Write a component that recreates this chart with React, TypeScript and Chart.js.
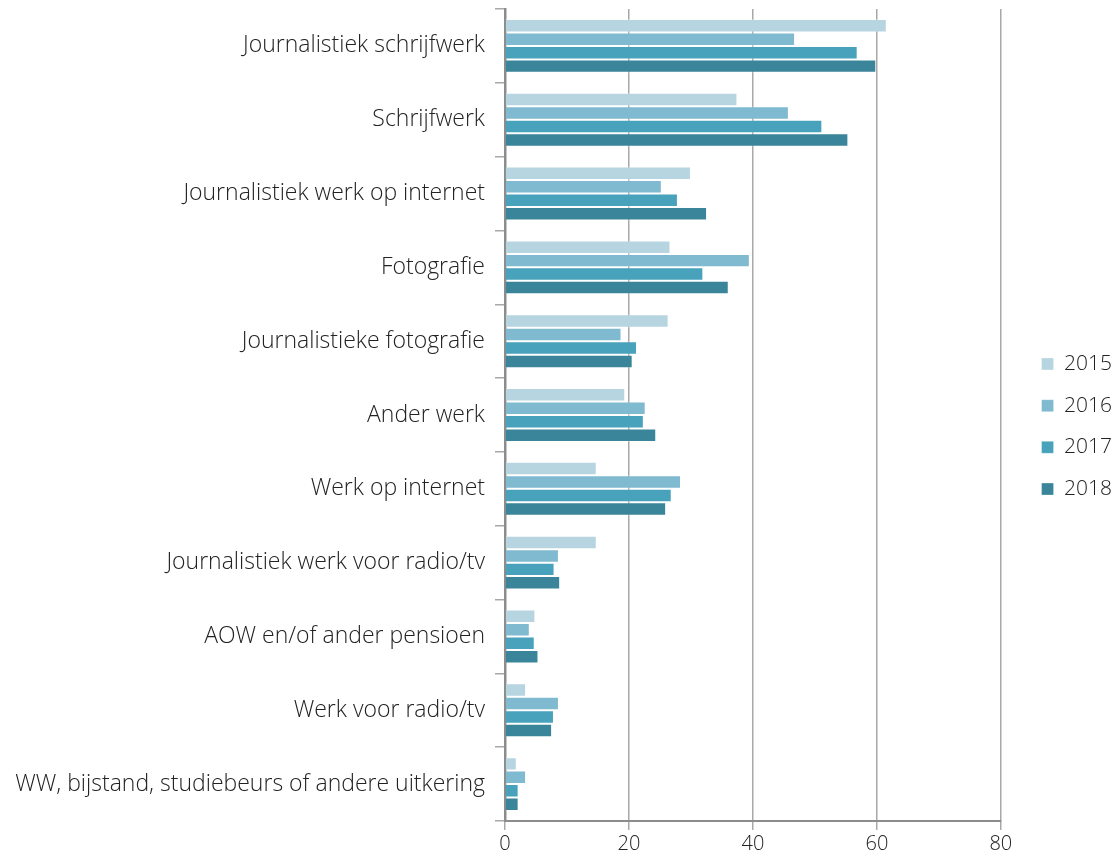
import React, { useEffect, useRef } from "react";
import { Chart, registerables } from "chart.js";

Chart.register(...registerables);

const categories = [
  "Journalistiek schrijfwerk",
  "Schrijfwerk",
  "Journalistiek werk op internet",
  "Fotografie",
  "Journalistieke fotografie",
  "Ander werk",
  "Werk op internet",
  "Journalistiek werk voor radio/tv",
  "AOW en/of ander pensioen",
  "Werk voor radio/tv",
  "WW, bijstand, studiebeurs of andere uitkering",
];

const years = ["2015", "2016", "2017", "2018"];

const values2015 = [61.6, 37.5, 30.0, 26.7, 26.4, 19.4, 14.8, 14.8, 4.9, 3.4, 1.9];
const values2016 = [46.8, 45.8, 25.3, 39.5, 18.8, 22.7, 28.4, 8.7, 4.0, 8.7, 3.4];
const values2017 = [56.9, 51.2, 27.9, 32.0, 21.3, 22.4, 26.9, 8.0, 4.8, 7.9, 2.2];
const values2018 = [59.9, 55.4, 32.6, 36.1, 20.6, 24.4, 26.0, 8.9, 5.4, 7.6, 2.2];

const xTicks = [0, 20, 40, 60, 80];

const colors = ["#b7d5e0", "#7fbad0", "#48a2bb", "#3a8599"];

const FONT = "'Open Sans', Lato, sans-serif";

const legendShift = {
  id: "legendShift",
  afterLayout(chart: any) {
    const lg = chart.legend;
    if (lg) {
      lg.left += 20;
      lg.right += 20;
      lg.top -= 7;
      lg.bottom -= 7;
    }
  },
};

export default function App() {
  const ref = useRef<HTMLCanvasElement | null>(null);

  useEffect(() => {
    document.body.style.margin = "0";
    const canvas = ref.current;
    if (!canvas) return;
    const series = [values2015, values2016, values2017, values2018];
    const chart = new Chart(canvas, {
      type: "bar",
      data: {
        labels: categories,
        datasets: series.map((vals, i) => ({
          label: years[i],
          data: vals,
          backgroundColor: colors[i],
          borderColor: "rgba(255,255,255,0.3)",
          borderWidth: 1,
          categoryPercentage: 0.73,
          barPercentage: 1,
        })),
      },
      plugins: [legendShift],
      options: {
        indexAxis: "y",
        animation: false,
        responsive: false,
        maintainAspectRatio: false,
        layout: { padding: { top: 9, right: 17, bottom: 4, left: 0 } },
        plugins: {
          tooltip: { enabled: false },
          legend: {
            position: "right",
            labels: {
              boxWidth: 12,
              boxHeight: 12,
              padding: 20.7,
              color: "#222",
              font: { family: FONT, size: 21, weight: "300" as any },
            },
          },
        },
        scales: {
          x: {
            min: 0,
            max: 80,
            afterBuildTicks: (scale: any) => {
              scale.ticks = xTicks.map((v) => ({ value: v }));
            },
            grid: {
              color: "#a8a8a8",
              lineWidth: 1.5,
              drawTicks: true,
              tickLength: 9,
            },
            border: { color: "#8c8c8c", width: 2 },
            ticks: {
              color: "#222",
              font: { family: FONT, size: 20, weight: "300" as any },
              padding: 2,
            },
          },
          y: {
            afterFit: (scale: any) => {
              scale.width = 505;
              scale.paddingTop = 0;
              scale.paddingBottom = 0;
            },
            grid: {
              drawOnChartArea: false,
              drawTicks: true,
              tickLength: 10,
              color: "#a8a8a8",
              lineWidth: 1.5,
            },
            border: { color: "#8c8c8c", width: 2.5 },
            ticks: {
              color: "#222",
              font: { family: FONT, size: 23, weight: "300" as any },
              padding: 10,
            },
          },
        },
      },
    });
    return () => chart.destroy();
  }, []);

  return (
    <div style={{ width: 1119, height: 862 }}>
      <canvas ref={ref} width={1119} height={862} style={{ display: "block" }} />
    </div>
  );
}
